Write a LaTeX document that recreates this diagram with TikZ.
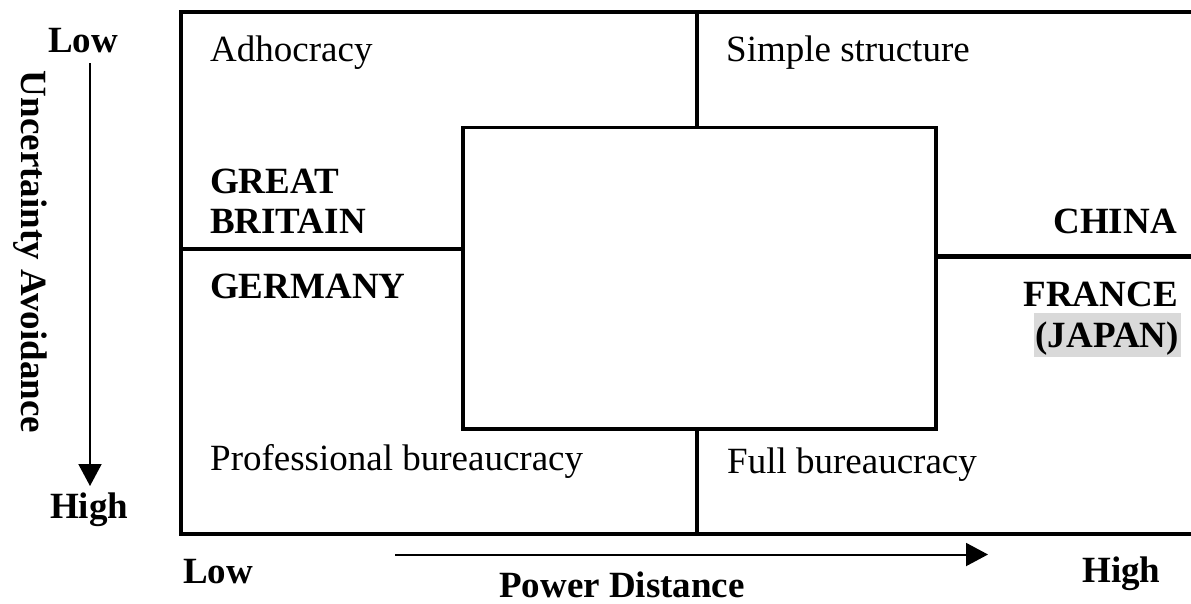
\documentclass[tikz,border=0pt]{standalone}
\usepackage{fontspec}
\setmainfont{Liberation Serif}
\usetikzlibrary{arrows.meta}
\definecolor{shade}{RGB}{217,217,217}
\begin{document}
\begin{tikzpicture}[x=1pt,y=-1pt,
  lbl/.style={inner sep=0pt, anchor=base west, font=\fontsize{37}{40}\selectfont},
  blbl/.style={lbl, font=\fontsize{37}{40}\selectfont\bfseries},
  frame/.style={line width=4pt},
  axis/.style={line width=2pt, -{Triangle[length=22pt,width=23pt]}}]
\useasboundingbox (0,0) rectangle (1191,603);

% outer frame (open on the right)
\coordinate (ftr) at (1191,12);
\coordinate (ftl) at (181,12);
\coordinate (fbl) at (181,534);
\coordinate (fbr) at (1191,534);
\draw[frame] (ftr) -- (ftl) -- (fbl) -- (fbr);

% central box
\node[draw, line width=3.5pt, outer sep=0pt, inner sep=0pt,
      minimum width=473pt, minimum height=301.5pt] (core) at (699.5,278.25) {};

% quadrant dividers
\coordinate (tmid) at (697,12);
\coordinate (bmid) at (697,534);
\coordinate (lmid) at (181,249);
\coordinate (rmid) at (1191,256);
\draw[frame] (tmid) -- (tmid |- core.north);
\draw[frame] (bmid) -- (bmid |- core.south);
\draw[frame] (lmid) -- (lmid -| core.west);
\draw[line width=5pt] (rmid) -- (rmid -| core.east);

% quadrant labels
\node[lbl] (adh) at (210,61) {Adhocracy};
\node[lbl] (simp) at (726,61) {Simple structure};
\node[lbl] (prof) at (210,470) {Professional bureaucracy};
\node[lbl] (full) at (727,473) {Full bureaucracy};

% countries
\node[blbl] (gb1) at (210,193) {GREAT};
\node[blbl] (gb2) at (210,233) {BRITAIN};
\node[blbl] (ger) at (210,298) {GERMANY};
\node[blbl, anchor=base east] (chn) at (1177,233) {CHINA};
\node[blbl, anchor=base east] (fra) at (1178,306) {FRANCE};
\node[blbl, anchor=base east, fill=shade, inner xsep=2pt, inner ysep=0pt,
      text height=34pt, text depth=10pt] (jpn) at (1181,347) {(JAPAN)};

% vertical axis: uncertainty avoidance
\node[blbl, anchor=base west] (ylow) at (48,52) {Low};
\node[blbl, anchor=base west] (yhigh) at (50,518) {High};
\coordinate (ya) at (90,63);
\coordinate (yb) at (90,486);
\draw[axis] (ya) -- (yb);
\node[blbl, anchor=center, rotate=-90] (ytitle) at (30,252) {Uncertainty Avoidance};

% horizontal axis: power distance
\node[blbl] (xlow) at (183,583) {Low};
\node[blbl] (xhigh) at (1082,582) {High};
\coordinate (xa) at (395,554.5);
\coordinate (xb) at (988,554.5);
\draw[axis] (xa) -- (xb);
\node[blbl, anchor=base] (xtitle) at (622,597) {Power Distance};
\end{tikzpicture}
\end{document}
